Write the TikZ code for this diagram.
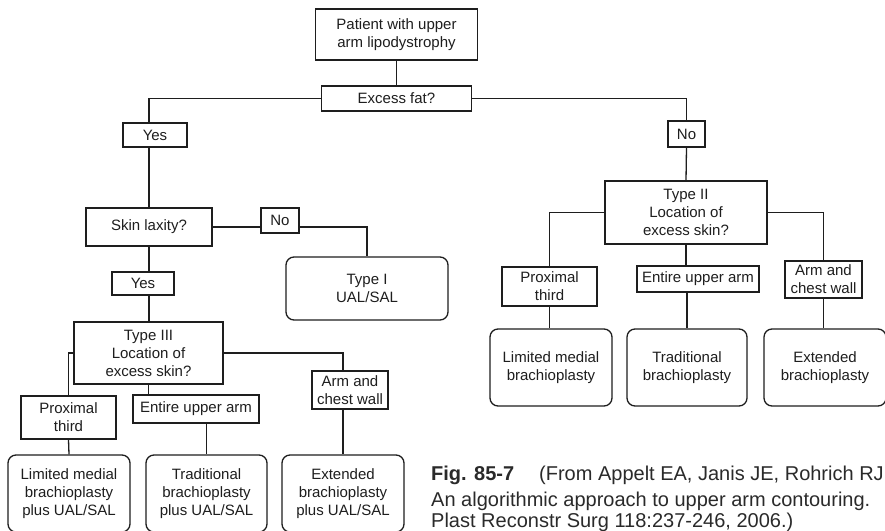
\documentclass[tikz,border=0pt]{standalone}
\usepackage{fontspec}
\setmainfont{Liberation Sans}
\definecolor{ink}{HTML}{1E1E1E}
\definecolor{capink}{HTML}{2A2A2A}
\begin{document}
\begin{tikzpicture}[x=1pt,y=-1pt,
  box/.style={draw=ink,line width=1.3pt,fill=white,inner sep=0pt,align=center,
    font=\fontsize{15}{18}\selectfont,text=ink},
  res/.style={box,rounded corners=8pt},
  sz/.style 2 args={minimum width=#1pt,minimum height=#2pt},
  conn/.style={draw=ink,line width=1.3pt},
  captext/.style={inner sep=0pt,anchor=base west,text=capink,font=\fontsize{20}{26}\selectfont}]
\useasboundingbox (0,0) rectangle (885,530);
\fill[white] (0,0) rectangle (885,530);

% top
\node[box,sz={162}{51}] (patient) at (396.5,34.5) {Patient with upper\\arm lipodystrophy};
\node[box,sz={150}{25}] (excess) at (396.5,98.5) {Excess fat?};

% left branch
\node[box,sz={64}{24}] (yes1) at (155,135) {Yes};
\node[box,sz={126}{38}] (skin) at (149,227) {Skin laxity?};
\node[box,sz={38}{25}] (no1) at (280,220.5) {No};
\node[res,sz={162}{63}] (typeI) at (367,288.5) {Type I\\UAL/SAL};
\node[box,sz={62}{23}] (yes2) at (143,283.5) {Yes};
\node[box,sz={149}{62}] (typeIII) at (148.5,353) {Type III\\Location of\\excess skin?};
\node[box,sz={95}{43}] (proxL) at (68.5,417.5) {Proximal\\third};
\node[box,sz={126}{28}] (entL) at (196,409) {Entire upper arm};
\node[box,sz={76}{38}] (armL) at (350,390) {Arm and\\chest wall};
\node[res,sz={122}{77}] (limL) at (69,493.5) {Limited medial\\brachioplasty\\plus UAL/SAL};
\node[res,sz={121}{77}] (tradL) at (206.5,493.5) {Traditional\\brachioplasty\\plus UAL/SAL};
\node[res,sz={122}{77}] (extL) at (343,493.5) {Extended\\brachioplasty\\plus UAL/SAL};

% right branch
\node[box,sz={37}{26}] (no2) at (686.5,134) {No};
\node[box,sz={162}{63}] (typeII) at (686,212.5) {Type II\\Location of\\excess skin?};
\node[box,sz={95}{39}] (proxR) at (549.5,286.5) {Proximal\\third};
\node[box,sz={122}{26}] (entR) at (698,279) {Entire upper arm};
\node[box,sz={77}{37}] (armR) at (823.5,279.5) {Arm and\\chest wall};
\node[res,sz={122}{77}] (limR) at (551,367.5) {Limited medial\\brachioplasty};
\node[res,sz={120}{77}] (tradR) at (687,367.5) {Traditional\\brachioplasty};
\node[res,sz={122}{77}] (extR) at (825,367.5) {Extended\\brachioplasty};

% connectors
\draw[conn] (patient.south) -- (excess.north);
\draw[conn] (excess.west) -| (yes1.north -| skin.north);
\draw[conn] (yes1.south -| skin.north) -- (skin.north);
\draw[conn] (skin.south) -- (skin.south |- yes2.north);
\draw[conn] (skin.south |- yes2.south) -- (skin.south |- typeIII.north);
\draw[conn] (skin.east) -- (skin.east -| no1.west);
\draw[conn] (skin.east -| no1.east) -| (typeI.north);
\draw[conn] (typeIII.west) -| (proxL.north);
\draw[conn] (proxL.south) -- (limL.north);
\draw[conn] (typeIII.south) -- (typeIII.south |- entL.north);
\draw[conn] (entL.south -| tradL.north) -- (tradL.north);
\draw[conn] (typeIII.east) -| (armL.north -| extL.north);
\draw[conn] (armL.south -| extL.north) -- (extL.north);

\draw[conn] (excess.east) -| (no2.north);
\draw[conn] (no2.south) -- (typeII.north);
\draw[conn] (typeII.west) -| (proxR.north);
\draw[conn] (proxR.south) -- (proxR.south |- limR.north);
\draw[conn] (typeII.south) -- (typeII.south |- entR.north);
\draw[conn] (entR.south -| tradR.north) -- (tradR.north);
\draw[conn] (typeII.east) -| (armR.north);
\draw[conn] (armR.south) -- (armR.south |- extR.north);

% caption
\node[captext] (cap1) at (431,480) {\textbf{Fig. 85-7}\hspace{25pt}(From Appelt EA, Janis JE, Rohrich RJ};
\node[captext] (cap2) at (431,506) {An algorithmic approach to upper arm contouring.};
\node[captext] (cap3) at (431,527) {Plast Reconstr Surg 118:237-246, 2006.)};
\end{tikzpicture}
\end{document}
